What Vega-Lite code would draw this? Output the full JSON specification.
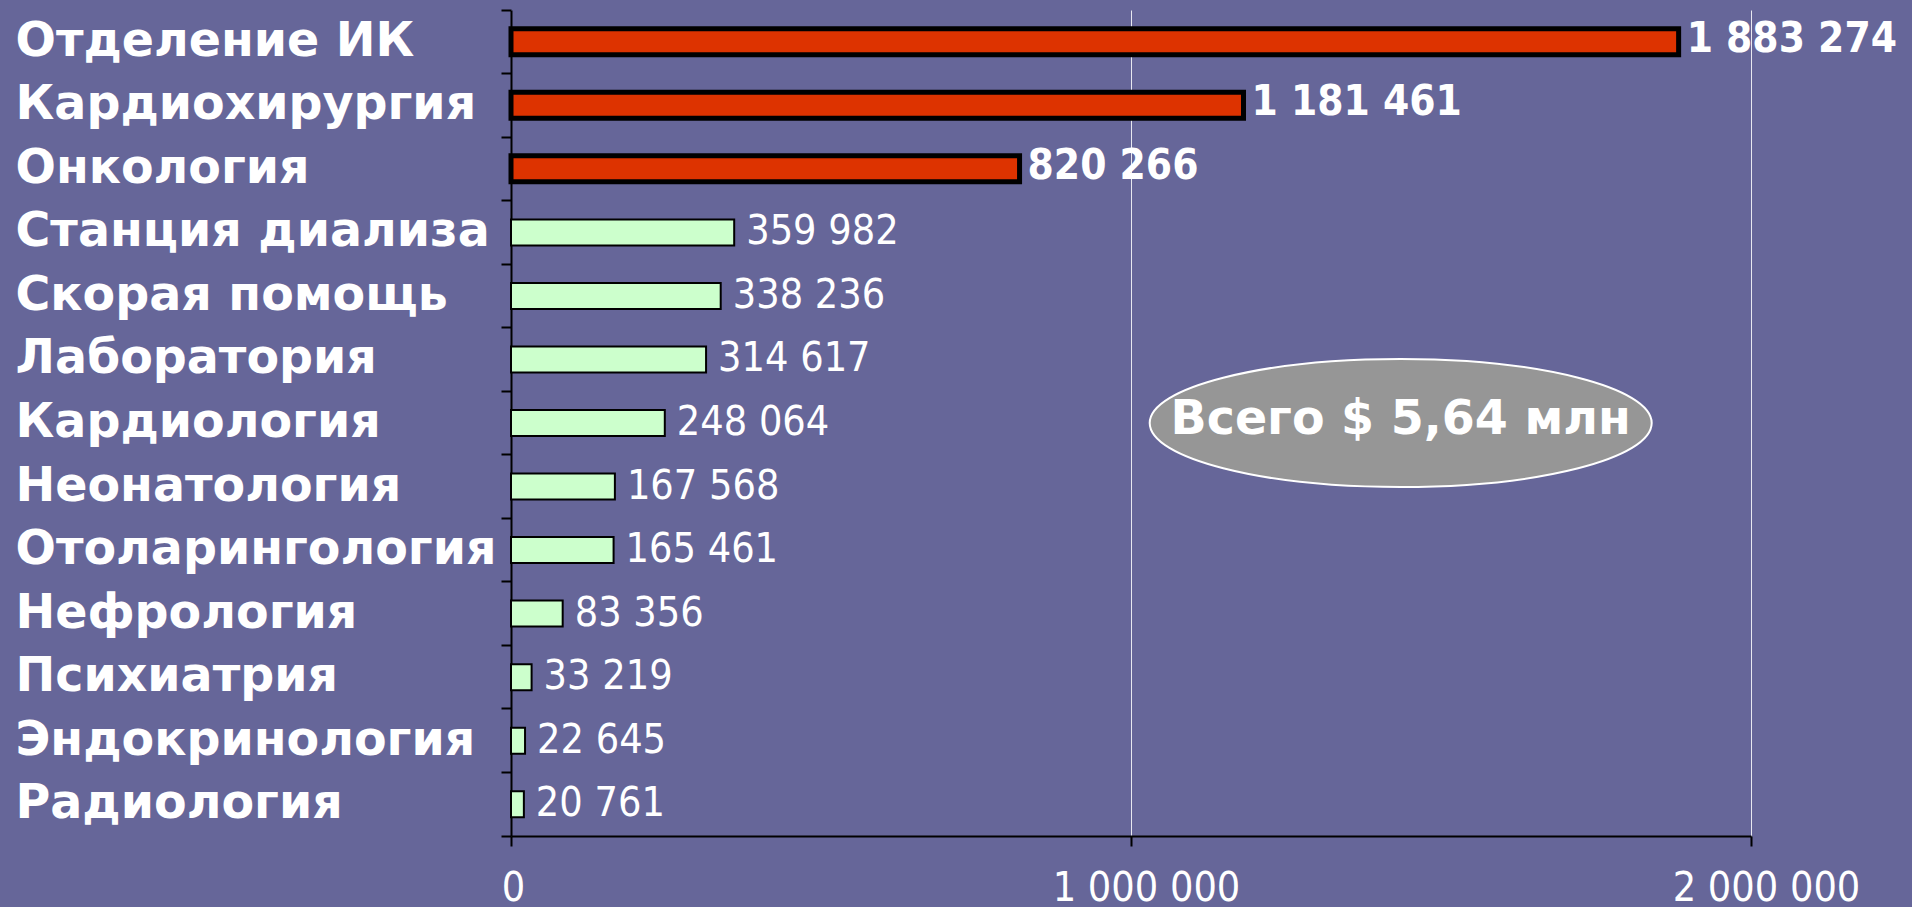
{
  "$schema": "https://vega.github.io/schema/vega-lite/v6.json",
  "width": 1240,
  "height": 826,
  "autosize": {"type": "none"},
  "padding": {"left": 511, "top": 10, "right": 161, "bottom": 71},
  "background": "#666699",
  "config": {
    "view": {"stroke": null},
    "locale": {"number": {"decimal": ",", "thousands": " ", "grouping": [3], "currency": ["", ""]}}
  },
  "datasets": {
    "depts": [
      {"dept": "Отделение ИК", "value": 1883274, "group": "top"},
      {"dept": "Кардиохирургия", "value": 1181461, "group": "top"},
      {"dept": "Онкология", "value": 820266, "group": "top"},
      {"dept": "Станция диализа", "value": 359982, "group": "other"},
      {"dept": "Скорая помощь", "value": 338236, "group": "other"},
      {"dept": "Лаборатория", "value": 314617, "group": "other"},
      {"dept": "Кардиология", "value": 248064, "group": "other"},
      {"dept": "Неонатология", "value": 167568, "group": "other"},
      {"dept": "Отоларингология", "value": 165461, "group": "other"},
      {"dept": "Нефрология", "value": 83356, "group": "other"},
      {"dept": "Психиатрия", "value": 33219, "group": "other"},
      {"dept": "Эндокринология", "value": 22645, "group": "other"},
      {"dept": "Радиология", "value": 20761, "group": "other"}
    ],
    "total": [
      {"dept": "Кардиология", "value": 1435000, "label": "Всего $ 5,64 млн"}
    ]
  },
  "layer": [
    {
      "data": {"name": "depts"},
      "mark": {"type": "bar", "size": 26},
      "encoding": {
        "y": {
          "field": "dept", "type": "nominal",
          "scale": {
            "domain": ["Отделение ИК", "Кардиохирургия", "Онкология", "Станция диализа", "Скорая помощь", "Лаборатория", "Кардиология", "Неонатология", "Отоларингология", "Нефрология", "Психиатрия", "Эндокринология", "Радиология"],
            "paddingInner": 0, "paddingOuter": 0
          },
          "axis": {
            "title": null,
            "orient": "left",
            "domainColor": "#000000", "domainWidth": 2,
            "tickColor": "#000000", "tickWidth": 2, "tickSize": 10,
            "bandPosition": 1, "tickExtra": true,
            "labelAlign": "left", "labelBaseline": "middle",
            "labelPadding": 486, "labelLimit": 700,
            "labelColor": "#ffffff", "labelFont": "DejaVu Sans", "labelFontWeight": "bold", "labelFontSize": 47.5,
            "grid": false
          }
        },
        "x": {
          "field": "value", "type": "quantitative",
          "scale": {"domain": [0, 2000000], "nice": false},
          "axis": {
            "title": null,
            "values": [0, 1000000, 2000000],
            "format": ",d",
            "domainColor": "#000000", "domainWidth": 2,
            "tickColor": "#000000", "tickWidth": 2, "tickSize": 10,
            "labelColor": "#ffffff", "labelFont": "DejaVu Sans Condensed, Noto Sans", "labelFontSize": 41,
            "labelPadding": 22, "labelBaseline": "top", "labelLimit": 600, "labelFlush": false, "labelOverlap": false,
            "labelOffset": {"condition": {"test": "datum.value > 0", "value": 15}, "value": 2},
            "grid": true, "gridColor": "#ffffff", "gridWidth": 1, "gridOpacity": 0.85
          }
        },
        "fill": {
          "field": "group", "type": "nominal",
          "scale": {"domain": ["top", "other"], "range": ["#DD3300", "#CCFFCC"]},
          "legend": null
        },
        "stroke": {"value": "#000000"},
        "strokeWidth": {"condition": {"test": "datum.group === 'top'", "value": 5}, "value": 2}
      }
    },
    {
      "data": {"name": "depts"},
      "transform": [{"filter": "datum.group === 'other'"}],
      "mark": {"type": "text", "align": "left", "baseline": "middle", "dx": 12, "font": "DejaVu Sans Condensed, Noto Sans", "fontSize": 41, "color": "#ffffff"},
      "encoding": {
        "y": {"field": "dept", "type": "nominal"},
        "x": {"field": "value", "type": "quantitative"},
        "text": {"field": "value", "type": "quantitative", "format": ",d"}
      }
    },
    {
      "data": {"name": "depts"},
      "transform": [{"filter": "datum.group === 'top'"}],
      "mark": {"type": "text", "align": "left", "baseline": "middle", "dx": 8, "dy": -3, "font": "DejaVu Sans Condensed, Noto Sans", "fontWeight": "bold", "fontSize": 42, "color": "#ffffff"},
      "encoding": {
        "y": {"field": "dept", "type": "nominal"},
        "x": {"field": "value", "type": "quantitative"},
        "text": {"field": "value", "type": "quantitative", "format": ",d"}
      }
    },
    {
      "data": {"name": "total"},
      "mark": {"type": "point", "shape": "M-1,0A1,0.255,0,1,0,1,0A1,0.255,0,1,0,-1,0Z", "filled": true, "fill": "#969696", "stroke": "#ffffff", "strokeWidth": 2, "opacity": 1, "size": 252004},
      "encoding": {
        "y": {"field": "dept", "type": "nominal"},
        "x": {"field": "value", "type": "quantitative"}
      }
    },
    {
      "data": {"name": "total"},
      "mark": {"type": "text", "align": "center", "baseline": "middle", "dy": -3, "font": "DejaVu Sans", "fontWeight": "bold", "fontSize": 47.5, "color": "#ffffff"},
      "encoding": {
        "y": {"field": "dept", "type": "nominal"},
        "x": {"field": "value", "type": "quantitative"},
        "text": {"field": "label", "type": "nominal"}
      }
    }
  ]
}
